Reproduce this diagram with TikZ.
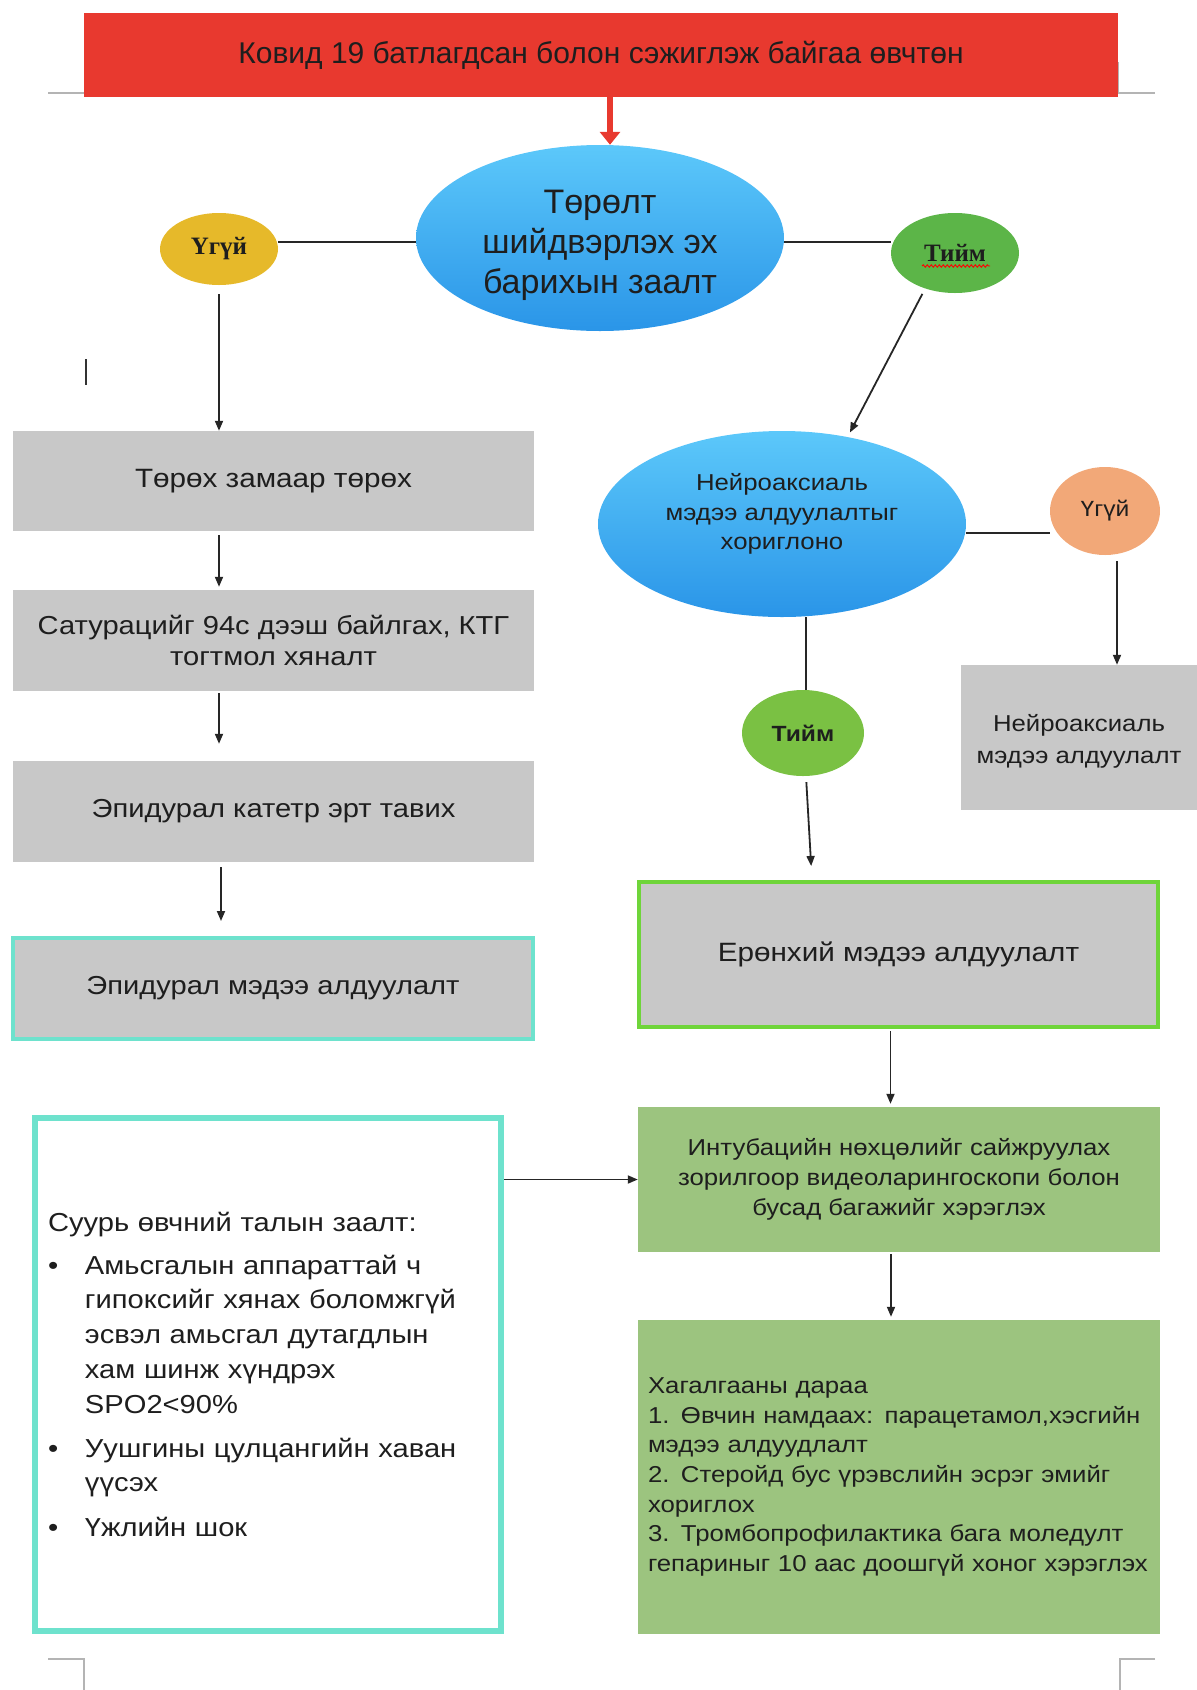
\documentclass[tikz,border=0pt]{standalone}
\usepackage{fontspec}
\setmainfont{Liberation Sans}[FakeStretch=1.12]
\newfontfamily\plainsans{Liberation Sans}
\newfontfamily\seriffont{Liberation Serif}
\usetikzlibrary{arrows.meta,shapes.geometric,decorations.pathmorphing}
\definecolor{topred}{HTML}{E8392F}
\definecolor{arrred}{HTML}{E8392F}
\definecolor{blueT}{HTML}{5CC8FA}
\definecolor{blueB}{HTML}{2A95E8}
\definecolor{yel}{HTML}{E6B92A}
\definecolor{grn}{HTML}{5CB548}
\definecolor{grn2}{HTML}{7AC143}
\definecolor{orng}{HTML}{F2A878}
\definecolor{boxgray}{HTML}{C8C8C8}
\definecolor{teal}{HTML}{6EE2CD}
\definecolor{lgreen}{HTML}{6FD53A}
\definecolor{boxgreen}{HTML}{9CC47F}
\definecolor{markgray}{HTML}{B4B4B4}
\definecolor{txt}{HTML}{1E1E1E}
\begin{document}
\begin{tikzpicture}[x=1pt,y=-1pt,
  every node/.style={text=txt},
  redbox/.style={rectangle, fill=topred, inner sep=0pt, font=\plainsans\fontsize{30}{34}\selectfont},
  blueell/.style={ellipse, top color=blueT, bottom color=blueB, inner sep=0pt},
  smallell/.style={ellipse, inner sep=0pt, align=center},
  graybox/.style={rectangle, fill=boxgray, inner sep=0pt, align=center, font=\fontsize{26}{31}\selectfont},
  greenbox/.style={rectangle, fill=boxgreen, inner sep=0pt, font=\fontsize{23}{29.7}\selectfont},
  arr/.style={line width=1.8pt, draw=black!85, -{Triangle[length=10pt,width=8pt]}},
  conn/.style={line width=1.8pt, draw=black!85},
  cropmark/.style={line width=1.5pt, draw=markgray}
]
\useasboundingbox (0,0) rectangle (1197,1690);

% crop marks
\draw[cropmark] (48,93) -- (1155,93);
\draw[cropmark] (1118,62) -- (1118,93);
\draw[cropmark] (48,1659) -- (84,1659) -- (84,1690);
\draw[cropmark] (1155,1659) -- (1120,1659) -- (1120,1690);
\draw[line width=1.5pt, black!80] (86,359) -- (86,385);

% top
\node[redbox, minimum width=1034pt, minimum height=84pt] (top) at (601,55) {Ковид 19 батлагдсан болон сэжиглэж байгаа өвчтөн};

\node[blueell, minimum width=368pt, minimum height=186pt] (el1) at (600,238) {};
\node[align=center, font=\plainsans\fontsize{34}{40}\selectfont] (el1t) at ([yshift=-7pt]el1.center) {Төрөлт\\шийдвэрлэх эх\\барихын заалт};

\node[smallell, fill=yel, minimum width=118pt, minimum height=72pt, font=\seriffont\bfseries\fontsize{25}{28}\selectfont] (no1) at (219,249) {Үгүй};
\node[smallell, fill=grn, minimum width=128pt, minimum height=80pt, font=\seriffont\bfseries\fontsize{25}{28}\selectfont] (yes1) at (955,253) {Тийм};
\draw[red, line width=0.9pt, decorate, decoration={snake, amplitude=1.2pt, segment length=4pt}] ([xshift=-33pt,yshift=-13pt]yes1.center) -- ([xshift=35pt,yshift=-13pt]yes1.center);

\coordinate (ra) at (610,0);
\draw[line width=6pt, draw=arrred, -{Triangle[length=13pt,width=20pt]}] (top.south -| ra) -- (el1.north -| ra);

\draw[conn] ([yshift=-4pt]el1.west -| no1.east) -- ([yshift=-4pt]el1.west);
\draw[conn] ([yshift=-4pt]el1.east) -- ([yshift=-4pt]el1.east -| yes1.west);

% left column
\node[graybox, minimum width=521pt, minimum height=100pt, font=\fontsize{26.5}{31}\selectfont] (b1) at (273.5,481) {Төрөх замаар төрөх};
\node[graybox, minimum width=521pt, minimum height=101pt] (b2) at (273.5,640.5) {Сатурацийг 94с дээш байлгах, КТГ\\тогтмол хяналт};
\node[graybox, minimum width=521pt, minimum height=101pt] (b3) at (273.5,811.5) {Эпидурал катетр эрт тавих};
\node[graybox, minimum width=520pt, minimum height=101pt, draw=teal, line width=4pt] (b4) at (273,988.5) {Эпидурал мэдээ алдуулалт};

\draw[arr, shorten <=9pt] (no1.south) -- (b1.north -| no1.south);
\draw[arr, shorten <=4pt, shorten >=3pt] (b1.south -| no1.south) -- (b2.north -| no1.south);
\draw[arr, shorten <=2pt, shorten >=17pt] (b2.south -| no1.south) -- (b3.north -| no1.south);
\coordinate (lx) at (221,0);
\draw[arr, shorten <=5pt, shorten >=15pt] (b3.south -| lx) -- (b4.north -| lx);

% right column
\node[blueell, minimum width=368pt, minimum height=186pt] (el2) at (782,524) {};
\node[align=center, font=\fontsize{23}{29.6}\selectfont] (el2t) at ([yshift=10pt]el2.center) {Нейроаксиаль\\мэдээ алдуулалтыг\\хориглоно};
\node[smallell, fill=orng, minimum width=110pt, minimum height=88pt, font=\fontsize{22}{25}\selectfont] (no2) at (1105,511) {Үгүй};
\node[graybox, minimum width=236pt, minimum height=145pt, font=\fontsize{23}{32}\selectfont] (b5) at (1079,737.5) {};
\node[align=center, font=\fontsize{23}{32}\selectfont] (b5t) at ([yshift=-4pt]b5.center) {Нейроаксиаль\\мэдээ алдуулалт};
\node[smallell, fill=grn2, minimum width=122pt, minimum height=86pt, font=\bfseries\fontsize{22}{25}\selectfont] (yes2) at (803,733) {Тийм};

\draw[arr, shorten <=6pt, shorten >=5pt] (yes1.230) -- (el2.53);
\draw[conn] ([yshift=-9pt]el2.east) -- ([yshift=-9pt]el2.east -| no2.west);
\path ([xshift=12pt]no2.south) coordinate (n2s);
\draw[arr, shorten <=6pt] (n2s) -- (n2s |- b5.north);
\path ([xshift=3pt]yes2.north) coordinate (y2n);
\draw[conn] (el2.south -| y2n) -- (y2n);

\node[graybox, minimum width=519pt, minimum height=145pt, draw=lgreen, line width=4pt, font=\fontsize{26.5}{31}\selectfont] (gen) at (898.5,954.5) {Ерөнхий мэдээ алдуулалт};

\path ([xshift=3pt]yes2.south) coordinate (y2s);
\path ([xshift=9pt]yes2.south) coordinate (y2e);
\draw[arr, shorten <=6pt, shorten >=14pt] (y2s) -- (y2e |- gen.north);

\node[greenbox, minimum width=522pt, minimum height=145pt, align=center] (g1) at (899,1179.5) {Интубацийн нөхцөлийг сайжруулах\\зорилгоор видеоларингоскопи болон\\бусад багажийг хэрэглэх};

\node[greenbox, minimum width=522pt, minimum height=314pt, text width=502pt, align=left] (g2) at (899,1477) {Хагалгааны дараа\\1. Өвчин намдаах: парацетамол,хэсгийн\\мэдээ алдуудлалт\\2. Стеройд бус үрэвслийн эсрэг эмийг\\хориглох\\3. Тромбопрофилактика бага моледулт\\гепариныг 10 аас доошгүй хоног хэрэглэх};

\node[rectangle, draw=teal, line width=6pt, fill=white, minimum width=466pt, minimum height=513pt, text width=440pt, inner sep=0pt, align=left, font=\fontsize{26}{34.8}\selectfont] (teal) at (268,1374.5) {Суурь өвчний талын заалт:\\[8pt]
\makebox[37pt][l]{•}Амьсгалын аппараттай ч\\
\makebox[37pt][l]{}гипоксийг хянах боломжгүй\\
\makebox[37pt][l]{}эсвэл амьсгал дутагдлын\\
\makebox[37pt][l]{}хам шинж хүндрэх\\
\makebox[37pt][l]{}SPO2<90\%\\[9pt]
\makebox[37pt][l]{•}Уушгины цулцангийн хаван\\
\makebox[37pt][l]{}үүсэх\\[10pt]
\makebox[37pt][l]{•}Үжлийн шок};

\path ([xshift=-8pt]gen.south) coordinate (gs);
\draw[arr, shorten <=2pt, shorten >=3pt] (gs) -- (gs |- g1.north);
\path ([xshift=-8pt]g1.south) coordinate (g1s);
\draw[arr, shorten <=2pt, shorten >=3pt] (g1s) -- (g1s |- g2.north);
\draw[arr] (teal.east |- g1.west) -- (g1.west);
\end{tikzpicture}
\end{document}
